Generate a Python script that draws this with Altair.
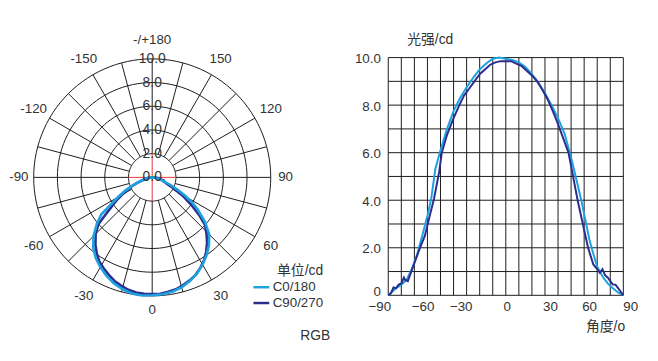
import altair as alt
import pandas as pd

# ---------------- data ----------------
SERIES = ["C0/180", "C90/270"]
COLORS = ["#1da1e0", "#2b2e8c"]

ANG_C0 = [-90, -87, -84, -80, -76, -72, -68, -64, -60, -57, -54, -50, -45, -40, -35, -30,
          -25, -20, -15, -10, -5, 0, 5, 10, 15, 20, 25, 30, 35, 40, 45, 50, 55, 58, 61,
          64, 67, 70, 74, 78, 82, 86, 90]
VAL_C0 = [0.0, 0.15, 0.3, 0.45, 0.65, 1.1, 1.7, 2.5, 3.35, 4.1, 5.3, 6.1, 7.0, 7.75, 8.3, 8.75,
          9.15, 9.5, 9.75, 9.95, 10.0, 9.95, 9.9, 9.8, 9.6, 9.3, 8.95, 8.5, 8.0, 7.45, 6.8, 5.8,
          4.65, 3.95, 3.15, 2.35, 1.75, 1.2, 0.8, 0.5, 0.3, 0.12, 0.0]

ANG_C90 = [-90, -88, -86, -84, -82, -80, -78, -77, -75, -73, -70, -66, -62, -60, -58, -55, -51,
           -49, -45, -40, -36, -32, -28, -24, -20, -16, -12, -8, -4, 0, 4, 8, 12, 16, 20, 24,
           28, 32, 36, 40, 44, 48, 51, 55, 59, 63, 67, 70, 72, 74, 76, 78, 80, 82, 84, 86, 88, 90]
VAL_C90 = [0.0, 0.08, 0.33, 0.3, 0.45, 0.5, 0.75, 0.65, 0.6, 0.9, 1.35, 1.95, 2.5, 2.95, 3.4,
           4.05, 5.2, 6.0, 6.75, 7.45, 7.95, 8.4, 8.7, 9.0, 9.3, 9.5, 9.7, 9.8, 9.85, 9.85, 9.85,
           9.75, 9.65, 9.45, 9.25, 9.0, 8.65, 8.25, 7.75, 7.2, 6.6, 6.0, 5.15, 4.0, 3.0, 2.0,
           1.3, 1.1, 0.95, 1.1, 0.85, 0.75, 0.6, 0.45, 0.45, 0.3, 0.15, 0.0]

# polar grid / labels
RING_VALUES = [2, 4, 6, 8, 10]
RING_LABEL_VALUES = [0, 2, 4, 6, 8, 10]
RING_LABEL_TEXT = ["0.0", "2.0", "4.0", "6.0", "8.0", "10.0"]
SPOKE_ANGLES = list(range(-180, 180, 15))
RED_ANGLES = [0, 90, 180, 270]
ANGLE_LABEL_VALUES = [180, -150, -120, -90, -60, -30, 0, 30, 60, 90, 120, 150]
ANGLE_LABEL_TEXT = ["-/+180", "-150", "-120", "-90", "-60", "-30", "0", "30", "60", "90", "120", "150"]

# cartesian grid / ticks
X_GRID = list(range(-90, 91, 10))
Y_GRID = list(range(0, 11))
X_TICKS = [-90, -60, -30, 0, 30, 60, 90]
Y_TICKS = [0, 2, 4, 6, 8, 10]

FONT = "Liberation Sans, Noto Sans CJK SC, sans-serif"
TXT = "#333333"
GRID = "#1a1a1a"

# ---------------- tables ----------------
curves = pd.DataFrame(
    {"series": [SERIES[0]] * len(ANG_C0) + [SERIES[1]] * len(ANG_C90),
     "a": ANG_C0 + ANG_C90,
     "v": VAL_C0 + VAL_C90}
)
ring_df = pd.DataFrame([{"r": r, "t": t} for r in RING_VALUES for t in range(0, 361, 3)])
spoke_df = pd.DataFrame({"t": SPOKE_ANGLES})
red_df = pd.DataFrame({"t": RED_ANGLES})
ring_lab_df = pd.DataFrame({"r": RING_LABEL_VALUES, "txt": RING_LABEL_TEXT})
ang_lab_df = pd.DataFrame({"t": ANGLE_LABEL_VALUES, "txt": ANGLE_LABEL_TEXT})
xg_df = pd.DataFrame({"g": X_GRID})
yg_df = pd.DataFrame({"g": Y_GRID})

# ---------------- scales ----------------
PX = alt.Scale(domain=[-10, 10], range=[26, 266], nice=False, zero=False)
PY = alt.Scale(domain=[-10, 10], range=[289.3, 49.3], nice=False, zero=False)
RX = alt.Scale(domain=[-90, 90], range=[385, 623], nice=False, zero=False)
RY = alt.Scale(domain=[0, 10], range=[288.7, 48], nice=False, zero=False)
CS = alt.Scale(domain=SERIES, range=COLORS)

LEG = alt.Legend(
    title="单位/cd", orient="none", legendX=247, legendY=257,
    titleFont=FONT, titleFontSize=14, titleFontWeight="normal", titleColor=TXT,
    titleAnchor="end", titlePadding=0,
    labelFont=FONT, labelFontSize=13.5, labelColor=TXT, labelOffset=2,
    symbolType="stroke", symbolSize=256, symbolStrokeWidth=2.5,
    rowPadding=0, padding=0,
)

XAX = alt.Axis(
    orient="bottom", offset=-64.3, values=X_TICKS, format="d",
    labelFont=FONT, labelFontSize=13.5, labelColor=TXT, labelPadding=4,
    labelFlush=False, labelOverlap=False,
    labelOffset={"condition": [
        {"test": "datum.value == -90", "value": -9},
        {"test": "datum.value == -60", "value": -5},
        {"test": "datum.value == -30", "value": -6},
        {"test": "datum.value == 30", "value": 5},
        {"test": "datum.value == 60", "value": 5},
        {"test": "datum.value == 90", "value": 7},
    ], "value": 1},
    ticks=False, domain=False, grid=False,
    title="角度/o", titleX=604.5, titleY=31.3, titleAlign="center",
    titleBaseline="middle", titleAngle=0, titleFont=FONT, titleFontSize=14,
    titleFontWeight="normal", titleColor=TXT,
)
YAX = alt.Axis(
    orient="left", offset=-385, values=Y_TICKS,
    labelExpr="datum.value == 0 ? '0' : format(datum.value, '.1f')",
    labelFont=FONT, labelFontSize=13.5, labelColor=TXT, labelPadding=8,
    labelOffset={"condition": {"test": "datum.value == 0", "value": -4}, "value": 1},
    ticks=False, domain=False, grid=False,
    title="光强/cd", titleX=18.7, titleY=29.5, titleAlign="left",
    titleBaseline="middle", titleAngle=0, titleFont=FONT, titleFontSize=14,
    titleFontWeight="normal", titleColor=TXT,
)

# ---------------- polar panel ----------------
rings = alt.Chart(ring_df).transform_calculate(
    px="datum.r*sin(datum.t*PI/180)", py="-datum.r*cos(datum.t*PI/180)"
).mark_line(color=GRID, strokeWidth=1).encode(
    x=alt.X("px:Q", scale=PX, axis=None),
    y=alt.Y("py:Q", scale=PY, axis=None),
    detail="r:N", order="t:Q",
)

spokes = alt.Chart(spoke_df).transform_calculate(
    x1="2*sin(datum.t*PI/180)", y1="-2*cos(datum.t*PI/180)",
    x2="10*sin(datum.t*PI/180)", y2="-10*cos(datum.t*PI/180)",
).mark_rule(color=GRID, strokeWidth=1).encode(
    x=alt.X("x1:Q", scale=PX, axis=None), y=alt.Y("y1:Q", scale=PY, axis=None),
    x2="x2:Q", y2="y2:Q",
)

red = alt.Chart(red_df).transform_calculate(
    x1="0", y1="0",
    x2="2*sin(datum.t*PI/180)", y2="-2*cos(datum.t*PI/180)",
).mark_rule(color="#e8383d", strokeWidth=1).encode(
    x=alt.X("x1:Q", scale=PX, axis=None), y=alt.Y("y1:Q", scale=PY, axis=None),
    x2="x2:Q", y2="y2:Q",
)

def polar_curve(name):
    return alt.Chart(curves).transform_filter(
        alt.datum.series == name
    ).transform_calculate(
        px="datum.v*sin(datum.a*PI/180)", py="-datum.v*cos(datum.a*PI/180)"
    ).mark_line(strokeWidth=2.6).encode(
        x=alt.X("px:Q", scale=PX, axis=None),
        y=alt.Y("py:Q", scale=PY, axis=None),
        order="a:Q",
        color=alt.Color("series:N", scale=CS, legend=LEG),
    )

ring_labels = alt.Chart(ring_lab_df).transform_calculate(px="0", py="datum.r").mark_text(
    font=FONT, fontSize=14, color=TXT, align="center", baseline="middle"
).encode(
    x=alt.X("px:Q", scale=PX, axis=None), y=alt.Y("py:Q", scale=PY, axis=None), text="txt:N"
)

angle_labels = alt.Chart(ang_lab_df).transform_calculate(
    rr="abs(datum.t) == 90 ? 11.25 : (datum.t == 0 ? 11.2 : 11.55)",
).transform_calculate(
    px="datum.rr*sin(datum.t*PI/180)", py="-datum.rr*cos(datum.t*PI/180)"
).mark_text(font=FONT, fontSize=13.5, color=TXT, align="center", baseline="middle").encode(
    x=alt.X("px:Q", scale=PX, axis=None), y=alt.Y("py:Q", scale=PY, axis=None), text="txt:N"
)

polar = alt.layer(rings, spokes, red, polar_curve(SERIES[1]), polar_curve(SERIES[0]),
                  ring_labels, angle_labels)

# ---------------- cartesian panel ----------------
vgrid = alt.Chart(xg_df).transform_calculate(lo="0", hi="10").mark_rule(
    color=GRID, strokeWidth=1
).encode(
    x=alt.X("g:Q", scale=RX, axis=XAX), y=alt.Y("lo:Q", scale=RY, axis=YAX), y2="hi:Q"
)
hgrid = alt.Chart(yg_df).transform_calculate(lo="-90", hi="90").mark_rule(
    color=GRID, strokeWidth=1
).encode(
    y=alt.Y("g:Q", scale=RY, axis=YAX), x=alt.X("lo:Q", scale=RX, axis=XAX), x2="hi:Q"
)

def cart_curve(name):
    return alt.Chart(curves).transform_filter(alt.datum.series == name).mark_line(
        strokeWidth=2
    ).encode(
        x=alt.X("a:Q", scale=RX, axis=XAX),
        y=alt.Y("v:Q", scale=RY, axis=YAX),
        order="a:Q",
        color=alt.Color("series:N", scale=CS, legend=LEG),
    )

cart = alt.layer(vgrid, hgrid, cart_curve(SERIES[0]), cart_curve(SERIES[1]))

rgb = alt.Chart(pd.DataFrame({"t": ["RGB"]})).mark_text(
    font=FONT, fontSize=14, color=TXT, align="center", baseline="middle"
).encode(x=alt.value(311), y=alt.value(330), text="t:N")

chart = alt.layer(polar, cart, rgb).resolve_scale(
    x="independent", y="independent"
).properties(
    width=650, height=353, autosize=alt.AutoSizeParams(type="none"), padding=0
).configure_view(stroke=None)

chart.save("out.html", embed_options={"renderer": "svg", "actions": False})
